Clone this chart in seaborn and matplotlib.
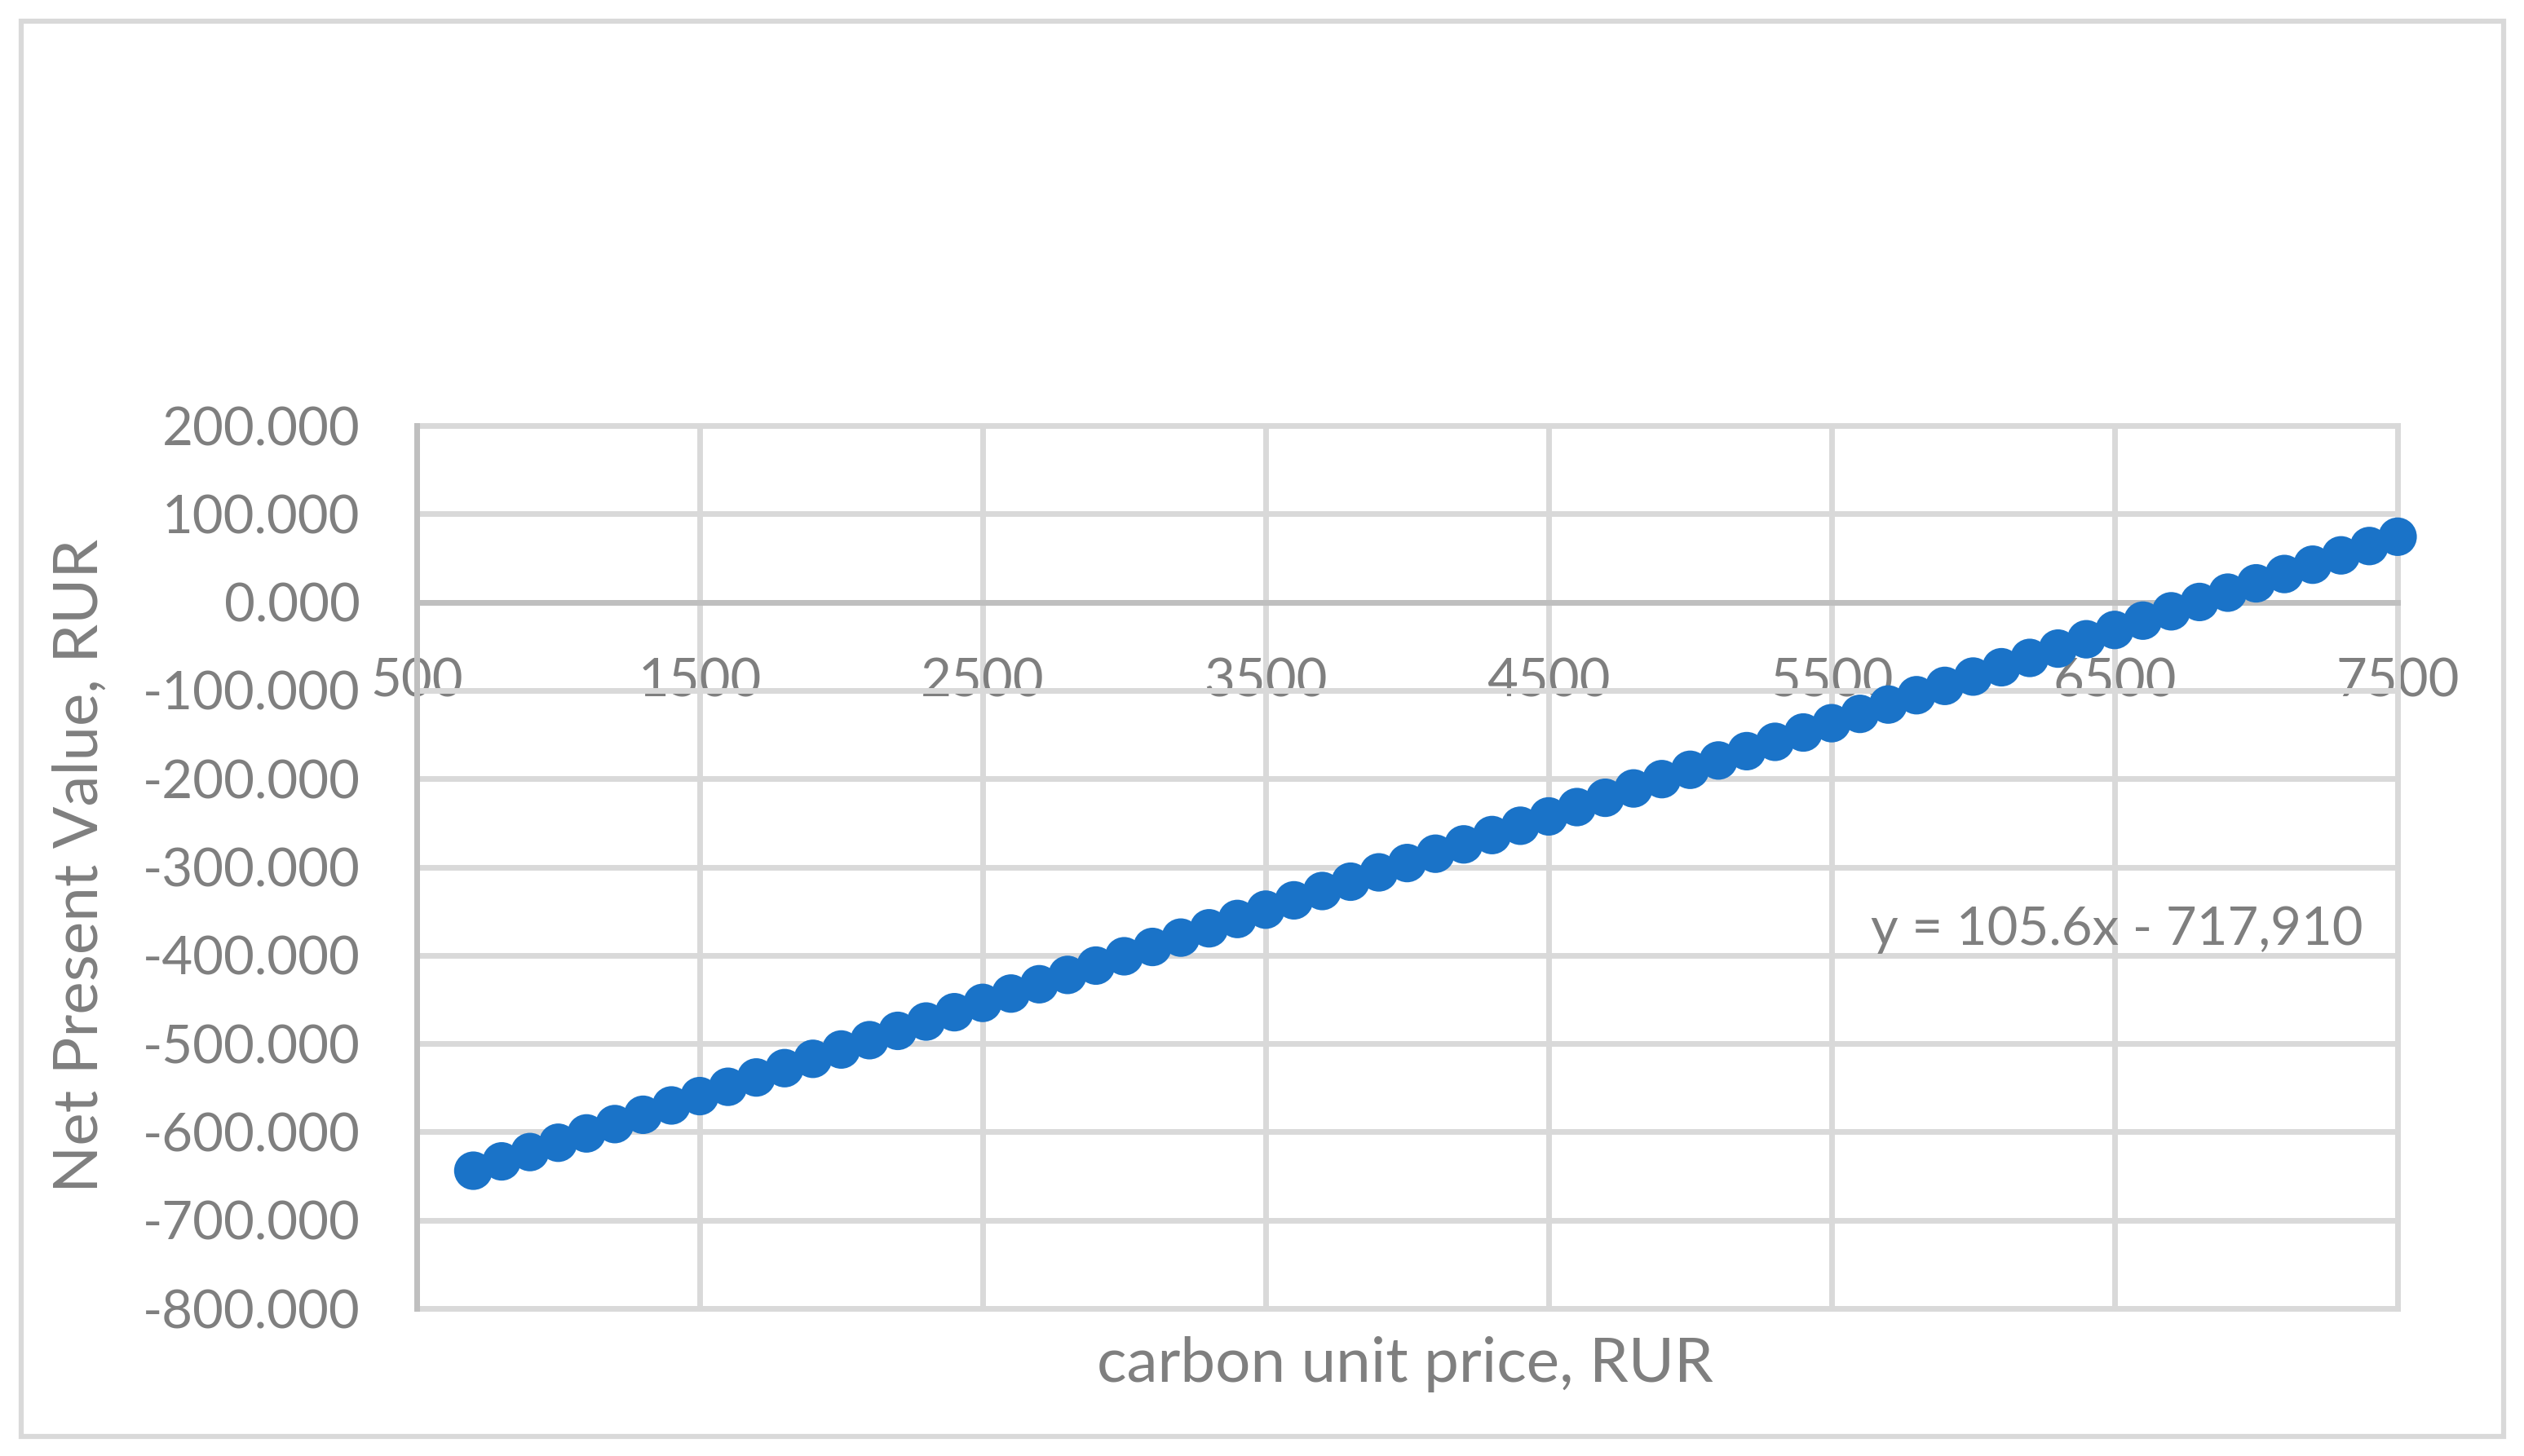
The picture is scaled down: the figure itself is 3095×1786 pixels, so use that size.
import matplotlib
matplotlib.use("Agg")
import matplotlib.pyplot as plt
import matplotlib.patches as mpatches
from matplotlib.ticker import FuncFormatter, MultipleLocator
import seaborn as sns
import pandas as pd

# ---- data ----
carbon_price = [700, 800, 900, 1000, 1100, 1200, 1300, 1400, 1500, 1600,
                1700, 1800, 1900, 2000, 2100, 2200, 2300, 2400, 2500, 2600,
                2700, 2800, 2900, 3000, 3100, 3200, 3300, 3400, 3500, 3600,
                3700, 3800, 3900, 4000, 4100, 4200, 4300, 4400, 4500, 4600,
                4700, 4800, 4900, 5000, 5100, 5200, 5300, 5400, 5500, 5600,
                5700, 5800, 5900, 6000, 6100, 6200, 6300, 6400, 6500, 6600,
                6700, 6800, 6900, 7000, 7100, 7200, 7300, 7400, 7500]
npv = [-643990, -633430, -622870, -612310, -601750, -591190, -580630, -570070,
       -559510, -548950, -538390, -527830, -517270, -506710, -496150, -485590,
       -475030, -464470, -453910, -443350, -432790, -422230, -411670, -401110,
       -390550, -379990, -369430, -358870, -348310, -337750, -327190, -316630,
       -306070, -295510, -284950, -274390, -263830, -253270, -242710, -232150,
       -221590, -211030, -200470, -189910, -179350, -168790, -158230, -147670,
       -137110, -126550, -115990, -105430, -94870, -84310, -73750, -63190,
       -52630, -42070, -31510, -20950, -10390, 170, 10730, 21290, 31850,
       42410, 52970, 63530, 74090]
x_ticks = [500, 1500, 2500, 3500, 4500, 5500, 6500, 7500]
x_label = "carbon unit price, RUR"
y_label = "Net Present Value, RUR"
equation = "y = 105.6x - 717,910"

df = pd.DataFrame({"price": carbon_price, "npv": npv})

sns.set_theme(style="white")
plt.rcParams["font.family"] = ["Lato", "DejaVu Sans"]

GRID = "#d9d9d9"
AXIS = "#bfbfbf"
TXT = "#7f7f7f"
BLUE = "#1a73c8"
LW = 5.0

W, H = 3095, 1786
fig = plt.figure(figsize=(W / 100, H / 100), dpi=100)
ax = fig.add_axes([511 / W, 1 - 1605 / H, (2940 - 511) / W, (1605 - 522) / H])

sns.scatterplot(data=df, x="price", y="npv", ax=ax, s=34 ** 2, color=BLUE,
                edgecolor="none", linewidth=0, zorder=5, clip_on=False, legend=False)

ax.set_xlim(500, 7500)
ax.set_ylim(-800000, 200000)
ax.set_xticks(x_ticks)
ax.yaxis.set_major_locator(MultipleLocator(100000))
ax.yaxis.set_major_formatter(FuncFormatter(lambda v, p: f"{v / 1000:.3f}"))

ax.grid(True, color=GRID, linewidth=LW)
ax.set_axisbelow(True)
for side in ["right", "top"]:
    ax.spines[side].set_color(GRID)
    ax.spines[side].set_linewidth(LW)
ax.spines["left"].set_color(AXIS)
ax.spines["left"].set_linewidth(LW)
ax.spines["left"].set_zorder(3)
ax.spines["bottom"].set_position(("data", 0))
ax.spines["bottom"].set_color(AXIS)
ax.spines["bottom"].set_linewidth(LW)
ax.spines["bottom"].set_zorder(3)
ax.axhline(-800000, color=GRID, linewidth=LW, clip_on=False, zorder=1)

ax.tick_params(axis="x", length=0, pad=49, labelsize=47, labelcolor=TXT)
ax.tick_params(axis="y", length=0, pad=50, labelsize=47, labelcolor=TXT)

ax.set_xlabel("")
ax.set_ylabel("")
fig.text(1723 / W, 1 - 1674 / H, x_label, ha="center", va="center",
         fontsize=55, color=TXT)
fig.text(98 / W, 1 - 1062 / H, y_label, ha="center", va="center",
         rotation=90, fontsize=55, color=TXT)
fig.text(2596 / W, 1 - 1141 / H, equation, ha="center", va="center",
         fontsize=47, color=TXT)

border = mpatches.Rectangle((26 / W, 1 - 1762 / H), (3070 - 26) / W,
                            (1762 - 26) / H, transform=fig.transFigure,
                            fill=False, edgecolor=GRID, linewidth=4.5)
fig.patches.append(border)

fig.savefig("out.png", dpi=100, facecolor="white")
